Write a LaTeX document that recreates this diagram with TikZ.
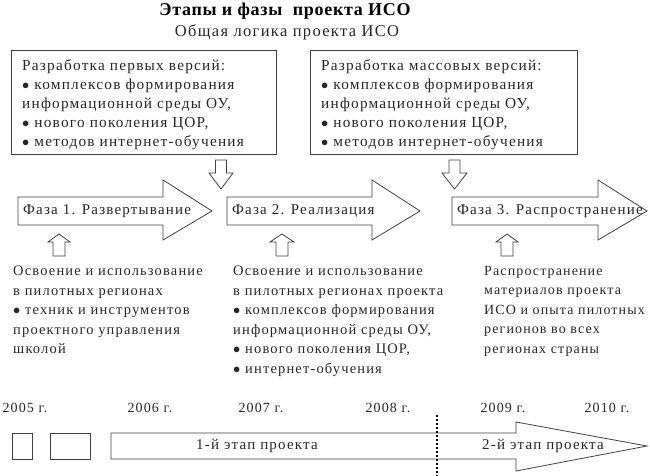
\documentclass[tikz,border=0pt]{standalone}
\usepackage{fontspec}
\setmainfont{Liberation Serif}[LetterSpace=8]
\newfontfamily\titlefont{Liberation Serif}[LetterSpace=4]
\begin{document}
\begin{tikzpicture}[x=1pt,y=-1pt,line join=miter,
  frame/.style={draw=black!75,line width=0.9pt},
  blockarrow/.style={draw=black!75,line width=0.8pt,fill=white},
  boxtxt/.style={inner sep=0pt,font=\fontsize{15.3}{19.2}\selectfont,align=left,text=black!85},
  txt/.style={inner sep=0pt,font=\fontsize{14.5}{19.5}\selectfont,align=left,text=black!85},
  phtxt/.style={inner sep=0pt,font=\fontsize{15}{18}\selectfont,text=black!85},
  yr/.style={inner sep=0pt,font=\fontsize{14}{16}\selectfont,text=black!85}]
\useasboundingbox (0,0) rectangle (650,476);
% titles
\node[inner sep=0pt,font=\titlefont\fontsize{18}{20}\bfseries] (title) at (285,11) {Этапы и фазы\ \ проекта ИСО};
\node[inner sep=0pt,font=\fontsize{16.5}{18}\selectfont,text=black!85] (subtitle) at (287,32) {Общая логика проекта ИСО};
% top boxes
\draw[frame] (11,50) rectangle (276,154);
\draw[frame] (310,50) rectangle (577,154);
\node[boxtxt,anchor=north west] (box1) at (22,59) {Разработка первых версий:\\
$\bullet$ комплексов формирования\\
информационной среды ОУ,\\
$\bullet$ нового поколения ЦОР,\\
$\bullet$ методов интернет-обучения};
\node[boxtxt,anchor=north west] (box2) at (321,59) {Разработка массовых версий:\\
$\bullet$ комплексов формирования\\
информационной среды ОУ,\\
$\bullet$ нового поколения ЦОР,\\
$\bullet$ методов интернет-обучения};
% down arrows
\draw[blockarrow] (215.5,160) -- (226.5,160) -- (226.5,173) -- (233,173) -- (221,189) -- (209,173) -- (215.5,173) -- cycle;
\draw[blockarrow] (449,160) -- (460,160) -- (460,173) -- (467,173) -- (454.5,189) -- (442,173) -- (449,173) -- cycle;
% phase arrows
\draw[blockarrow] (18,197) -- (163,197) -- (163,180) -- (212,211) -- (163,240) -- (163,225) -- (18,225) -- cycle;
\draw[blockarrow] (227,197) -- (372,197) -- (372,180) -- (420,211) -- (372,240) -- (372,225) -- (227,225) -- cycle;
\draw[blockarrow] (452,197) -- (598,197) -- (598,180) -- (647,211) -- (598,240) -- (598,225) -- (452,225) -- cycle;
\node[phtxt,anchor=west] (ph1) at (23,211) {Фаза 1. Развертывание};
\node[phtxt,anchor=west] (ph2) at (232,211) {Фаза 2. Реализация};
\node[phtxt,anchor=west] (ph3) at (457,211) {Фаза 3. Распространение};
% up arrows
\draw[blockarrow] (53,256) -- (65,256) -- (65,242) -- (70,242) -- (59,234) -- (48,242) -- (53,242) -- cycle;
\draw[blockarrow] (276,256) -- (288,256) -- (288,242) -- (294,242) -- (282,234) -- (270,242) -- (276,242) -- cycle;
\draw[blockarrow] (501,256) -- (513,256) -- (513,242) -- (518,242) -- (507,234) -- (496,242) -- (501,242) -- cycle;
% lower texts
\node[txt,anchor=north west] (low1) at (13,266) {Освоение и использование\\
в пилотных регионах\\
$\bullet$ техник и инструментов\\
проектного управления\\
школой};
\node[txt,anchor=north west] (low2) at (233,266) {Освоение и использование\\
в пилотных регионах проекта\\
$\bullet$ комплексов формирования\\
информационной среды ОУ,\\
$\bullet$ нового поколения ЦОР,\\
$\bullet$ интернет-обучения};
\node[txt,anchor=north west,font=\fontsize{14}{19.5}\selectfont] (low3) at (484,266) {Распространение\\
материалов проекта\\
ИСО и опыта пилотных\\
регионов во всех\\
регионах страны};
% timeline
\node[yr] (y2005) at (25,408) {2005 г.};
\node[yr] (y2006) at (150,408) {2006 г.};
\node[yr] (y2007) at (261,408) {2007 г.};
\node[yr] (y2008) at (388,408) {2008 г.};
\node[yr] (y2009) at (503,408) {2009 г.};
\node[yr] (y2010) at (607,408) {2010 г.};
\draw[frame] (12,433) rectangle (32,459);
\draw[frame] (50,433) rectangle (90,459);
\draw[blockarrow] (111,433) -- (516,433) -- (516,422) -- (647,446) -- (516,471) -- (516,459) -- (111,459) -- cycle;
\coordinate (dtop) at (437,415);
\coordinate (dbot) at (437,476);
\draw[line width=2pt,dash pattern=on 2pt off 2pt] (dtop) -- (dbot);
\node[phtxt] (st1) at (257,446) {1-й этап проекта};
\node[phtxt] (st2) at (543,446) {2-й этап проекта};
\end{tikzpicture}
\end{document}
